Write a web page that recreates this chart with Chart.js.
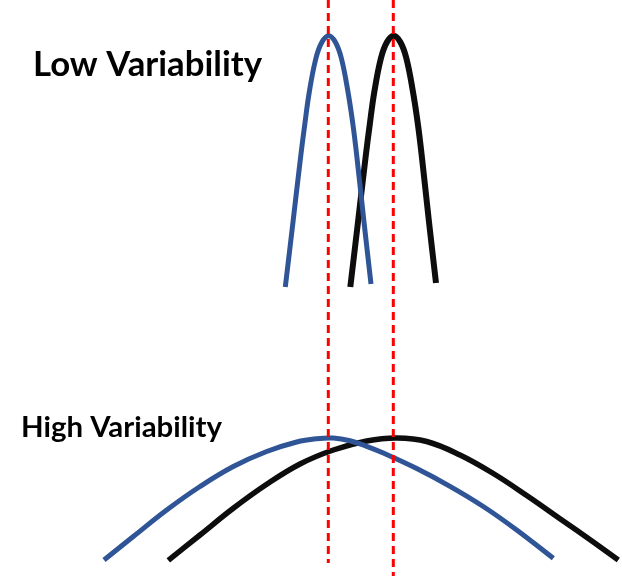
<!DOCTYPE html>
<html>
<head>
<meta charset="utf-8">
<script src="https://cdn.jsdelivr.net/npm/chart.js@4"></script>
<style>
  html, body { margin: 0; padding: 0; background: #fff; }
  canvas { display: block; }
</style>
</head>
<body>
<canvas id="chart" width="622" height="576"></canvas>
<script>
// values (x = score, y = height above bottom edge)
const lowBlueX  = [285.3, 293, 300.5, 304.7, 309.3, 316, 322, 328.7, 335.3, 341.3, 348, 353, 357, 364, 371];
const lowBlueY  = [289, 354, 418, 451, 484, 518, 534, 540.3, 534, 518, 484, 451, 418, 354, 292];
const lowBlackX = [350.3, 358, 365.5, 369.7, 374.3, 381, 387, 393.7, 400.3, 406.3, 413, 418, 422, 429, 436];
const lowBlackY = [289, 354, 418, 451, 484, 518, 534, 540.3, 534, 518, 484, 451, 418, 354, 293];

const highBlueX  = [104, 133.3, 166.7, 200, 233.3, 266.7, 296.7, 316.7, 333.3, 350, 366.7, 383.3, 416.7, 450, 483.3, 516.7, 553.3];
const highBlueY  = [16, 39.5, 66, 89.5, 109.5, 124.5, 134, 137.3, 138, 135.3, 129.7, 123, 107.5, 89.7, 69.5, 46, 17.7];
const highBlackX = [168.3, 200, 233.3, 266.7, 300, 333.3, 366.7, 396.7, 426.7, 460, 493.3, 526.7, 560, 593.3, 618.3];
const highBlackY = [15.6, 41, 67.7, 91.7, 112, 126, 135, 138, 134.5, 121, 102.5, 80.5, 57.3, 33.9, 16];

const meanLines = [328.3, 393.3];
const titles = ['Low Variability', 'High Variability'];

function pts(xs, ys) {
    return xs.map((x, i) => ({ x: x, y: ys[i] }));
}

function curve(xs, ys, color, width) {
    return {
        data: pts(xs, ys),
        borderColor: color,
        borderWidth: width,
        tension: 0.4,
        pointRadius: 0,
        fill: false,
        clip: false,
        order: 1
    };
}

// dashed vertical lines at the two means
const dashed = meanLines.map((m, i) => ({
    data: [{ x: m, y: 576 }, { x: m, y: i === 0 ? 13 : 0 }],
    borderColor: '#ff0000',
    borderWidth: 3,
    borderDash: [8, 5],
    pointRadius: 0,
    fill: false,
    clip: false,
    order: 0
}));

// the two bold labels
const labelPlugin = {
    id: 'labels',
    afterDraw(chart) {
        const ctx = chart.ctx;
        const spots = [
            { left: 33, base: 76, width: 229 },
            { left: 21, base: 436.5, width: 201 }
        ];
        ctx.save();
        ctx.fillStyle = '#000';
        ctx.textBaseline = 'alphabetic';
        titles.forEach((t, i) => {
            ctx.font = 'bold 100px Lato, "Open Sans", sans-serif';
            const w = ctx.measureText(t).width;
            const size = 100 * spots[i].width / w;
            ctx.font = 'bold ' + size.toFixed(2) + 'px Lato, "Open Sans", sans-serif';
            ctx.fillText(t, spots[i].left, spots[i].base);
        });
        ctx.restore();
    }
};

new Chart(document.getElementById('chart').getContext('2d'), {
    type: 'line',
    data: {
        datasets: [
            ...dashed,
            curve(lowBlueX, lowBlueY, '#2f5597', 5),
            curve(lowBlackX, lowBlackY, '#0d0d0d', 6),
            curve(highBlueX, highBlueY, '#2f5597', 5),
            curve(highBlackX, highBlackY, '#0d0d0d', 5.5)
        ]
    },
    options: {
        responsive: false,
        animation: false,
        layout: { padding: 0 },
        scales: {
            x: { type: 'linear', min: 0, max: 622, display: false },
            y: { type: 'linear', min: 0, max: 576, display: false }
        },
        plugins: {
            legend: { display: false },
            tooltip: { enabled: false }
        }
    },
    plugins: [labelPlugin]
});
</script>
</body>
</html>
